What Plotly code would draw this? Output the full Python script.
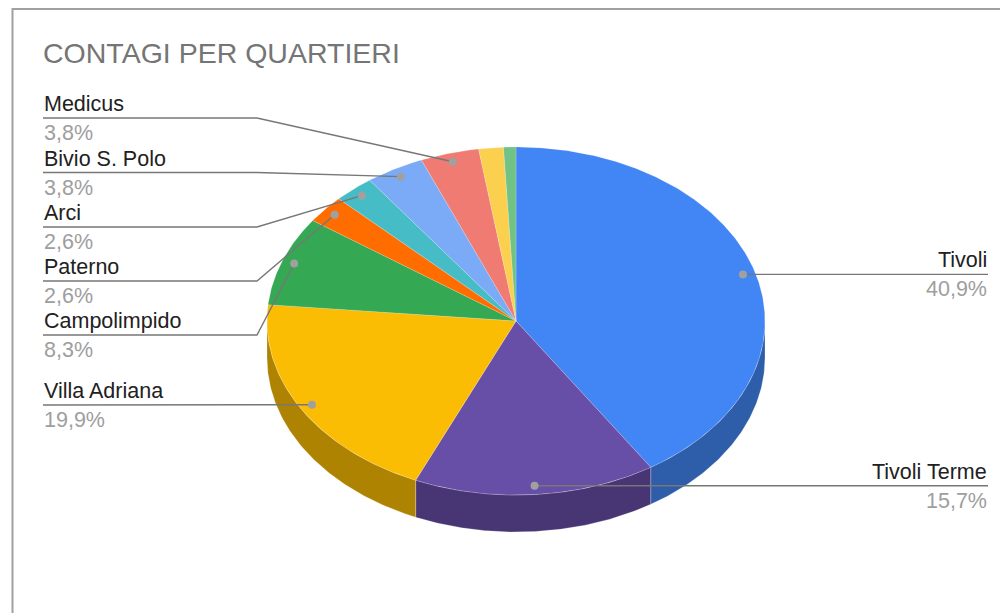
import numpy as np
import plotly.graph_objects as go

# ---------------- data ----------------
title_text = "CONTAGI PER QUARTIERI"
categories = ["Tivoli", "Tivoli Terme", "Villa Adriana", "Campolimpido", "Paterno",
              "Arci", "Bivio S. Polo", "Medicus", "Altro 1", "Altro 2"]
values = [40.9, 15.7, 19.9, 8.3, 2.6, 2.6, 3.8, 3.8, 1.6, 0.8]

# ---------------- styles / layout ----------------
colors = ["#4285F4", "#674EA7", "#FBBC04", "#34A853", "#FF6D01",
          "#46BDC6", "#7BAAF7", "#F07B72", "#FCD04F", "#71C287"]
# label placement (layout only): side and y of the leader underline (None -> at dot)
label_side = ["right", "right", "left", "left", "left", "left", "left", "left", None, None]
label_line_y = [None, None, 405, 335, 281, 227, 172.5, 118, None, None]

W, H = 1008, 613
OFF = 8  # page body margin
cx, cy, rx, ry, depth = 516.0, 321.0, 249.0, 174.0, 37.0
dot_frac = 0.95
left_x, elbow_x, right_x = 43, 257, 988
FONT = "Liberation Sans, Arial, sans-serif"


def darker(hexc, k=0.7):
    h = hexc.lstrip("#")
    r, g, b = (int(h[i:i + 2], 16) for i in (0, 2, 4))
    return "rgb(%d,%d,%d)" % (r * k, g * k, b * k)


def pt(theta, f=1.0, dy=0.0):
    t = np.radians(theta)
    return cx + f * rx * np.sin(t), cy - f * ry * np.cos(t) + dy


total = float(sum(values))
fracs = [v / total for v in values]
starts = np.concatenate([[0.0], np.cumsum(fracs)[:-1]]) * 360.0
ends = np.cumsum(fracs) * 360.0

fig = go.Figure()

# side walls (front half only)
for i, (a0, a1) in enumerate(zip(starts, ends)):
    a, b = max(a0, 90.0), min(a1, 270.0)
    if a >= b:
        continue
    th = np.linspace(a, b, max(4, int((b - a) * 2)))
    xt, yt = pt(th)
    xb, yb = pt(th[::-1], dy=depth)
    xs = np.concatenate([xt, xb, xt[:1]])
    ys = np.concatenate([yt, yb, yt[:1]])
    fig.add_trace(go.Scatter(x=xs, y=ys, mode="lines", fill="toself",
                             fillcolor=darker(colors[i]),
                             line=dict(color="rgba(255,255,255,0.35)", width=0.7),
                             hoverinfo="skip", showlegend=False))

# top faces
for i, (a0, a1) in enumerate(zip(starts, ends)):
    th = np.linspace(a0, a1, max(4, int((a1 - a0) * 2)))
    xt, yt = pt(th)
    xs = np.concatenate([[cx], xt, [cx]])
    ys = np.concatenate([[cy], yt, [cy]])
    fig.add_trace(go.Scatter(x=xs, y=ys, mode="lines", fill="toself",
                             fillcolor=colors[i],
                             line=dict(color="rgba(255,255,255,0.3)", width=0.6),
                             name=categories[i], hoverinfo="name",
                             showlegend=False))

# labels, leader lines, dots
annotations = []
dot_x, dot_y = [], []
for i, (a0, a1) in enumerate(zip(starts, ends)):
    side = label_side[i]
    if side is None:
        continue
    mid = (a0 + a1) / 2.0
    dx, dy = pt(mid, f=dot_frac)
    dot_x.append(dx)
    dot_y.append(dy)
    pct = ("%.1f%%" % (fracs[i] * 100)).replace(".", ",")
    if side == "right":
        ly = dy
        lx = [dx, right_x]
        lyy = [dy, dy]
        tx, anchor = right_x + 1, "right"
    else:
        ly = label_line_y[i]
        lx = [left_x, elbow_x, dx]
        lyy = [ly, ly, dy]
        tx, anchor = left_x - 1, "left"
    fig.add_trace(go.Scatter(x=lx, y=lyy, mode="lines",
                             line=dict(color="#777777", width=1.4),
                             hoverinfo="skip", showlegend=False))
    annotations.append(dict(x=tx, y=ly - 14, xref="x", yref="y", text=categories[i],
                            showarrow=False, xanchor=anchor, yanchor="middle",
                            font=dict(family=FONT, size=21.5, color="#212121")))
    annotations.append(dict(x=tx, y=ly + 15, xref="x", yref="y", text=pct,
                            showarrow=False, xanchor=anchor, yanchor="middle",
                            font=dict(family=FONT, size=21.5, color="#9E9E9E")))

fig.add_trace(go.Scatter(x=dot_x, y=dot_y, mode="markers",
                         marker=dict(color="#A0A0A0", size=8),
                         hoverinfo="skip", showlegend=False))

annotations.append(dict(x=left_x - 2, y=53, xref="x", yref="y", text=title_text,
                        showarrow=False, xanchor="left", yanchor="middle",
                        font=dict(family=FONT, size=28.5, color="#757575")))

fig.update_layout(
    width=W - OFF, height=H - OFF,
    margin=dict(l=0, r=0, t=0, b=0),
    paper_bgcolor="white", plot_bgcolor="white",
    xaxis=dict(range=[OFF, W], visible=False, fixedrange=True),
    yaxis=dict(range=[H, OFF], visible=False, fixedrange=True),
    annotations=annotations,
    shapes=[dict(type="rect", xref="x", yref="y", x0=12.5, y0=9, x1=W + 20, y1=H + 20,
                 line=dict(color="#A0A0A0", width=2), fillcolor="rgba(0,0,0,0)",
                 layer="below")],
    showlegend=False,
)

fig.write_html("out.html")
